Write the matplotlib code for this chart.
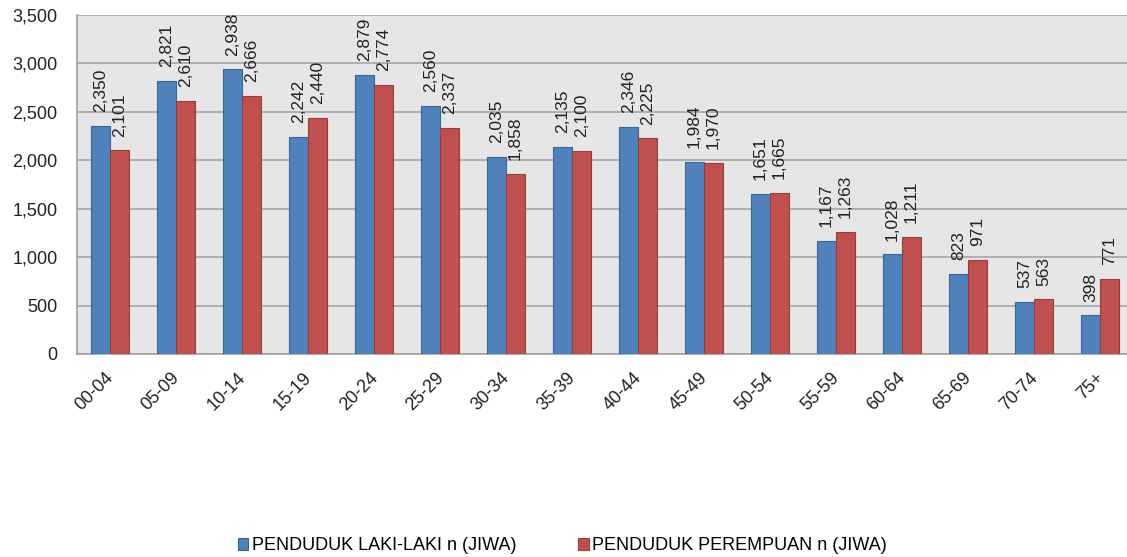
import numpy as np
import matplotlib.pyplot as plt
import matplotlib.transforms as mtransforms
from matplotlib.ticker import FuncFormatter

kelompok_umur = ["00-04", "05-09", "10-14", "15-19", "20-24", "25-29", "30-34", "35-39",
                 "40-44", "45-49", "50-54", "55-59", "60-64", "65-69", "70-74", "75+"]
laki_laki = [2350, 2821, 2938, 2242, 2879, 2560, 2035, 2135, 2346, 1984, 1651, 1167, 1028, 823, 537, 398]
perempuan = [2101, 2610, 2666, 2440, 2774, 2337, 1858, 2100, 2225, 1970, 1665, 1263, 1211, 971, 563, 771]

plt.rcParams['font.family'] = ['Liberation Sans', 'DejaVu Sans']

fig = plt.figure(figsize=(11.27, 5.57), dpi=100)
ax = fig.add_axes([0.0683, 0.3645, 0.937, 0.6086])
ax.set_facecolor("#E6E6E6")

x = np.arange(len(kelompok_umur))
w = 0.29
bars_l = ax.bar(x - w/2, laki_laki, w, color="#4F81BD", edgecolor="#3A6597", linewidth=0.8,
                label="PENDUDUK LAKI-LAKI n (JIWA)", zorder=3)
bars_p = ax.bar(x + w/2, perempuan, w, color="#C0504D", edgecolor="#93403D", linewidth=0.8,
                label="PENDUDUK PEREMPUAN n (JIWA)", zorder=3)

# data labels, rotated like the spreadsheet chart
for bars, vals in ((bars_l, laki_laki), (bars_p, perempuan)):
    for b, v in zip(bars, vals):
        ax.annotate(f"{v:,}", (b.get_x() + b.get_width()/2, v), xytext=(0, 10),
                    textcoords="offset points", rotation=90, ha="center", va="bottom",
                    fontsize=12.5, color="#222222", zorder=4, annotation_clip=False)

ax.set_ylim(0, 3500)
ax.set_xlim(-0.5, len(kelompok_umur) - 0.5)
ax.set_yticks(np.arange(0, 3501, 500))
ax.yaxis.set_major_formatter(FuncFormatter(lambda v, p: f"{int(v):,}"))
ax.yaxis.grid(True, color="#A6A6A6", linewidth=1.2, zorder=0)
ax.set_axisbelow(True)

ax.set_xticks(x)
ax.set_xticklabels(kelompok_umur, rotation=45, ha="right", rotation_mode="anchor")
ax.tick_params(axis="both", labelsize=13, colors="#222222", length=0)
ax.tick_params(axis="y", pad=14)
ax.tick_params(axis="x", pad=11)
shift = mtransforms.ScaledTranslation(-5/100, 0, fig.dpi_scale_trans)
for lbl in ax.get_xticklabels():
    lbl.set_transform(lbl.get_transform() + shift)

for s in ("top", "right"):
    ax.spines[s].set_visible(False)
for s in ("left", "bottom"):
    ax.spines[s].set_color("#A0A0A0")
    ax.spines[s].set_linewidth(1.2)

fig.legend(handles=[bars_l, bars_p], loc="center", bbox_to_anchor=(0.499, 0.02),
           ncol=2, frameon=False, fontsize=13, handlelength=0.6, handleheight=0.6,
           handletextpad=0.2, columnspacing=3.4)

fig.savefig("out.png", dpi=100)
